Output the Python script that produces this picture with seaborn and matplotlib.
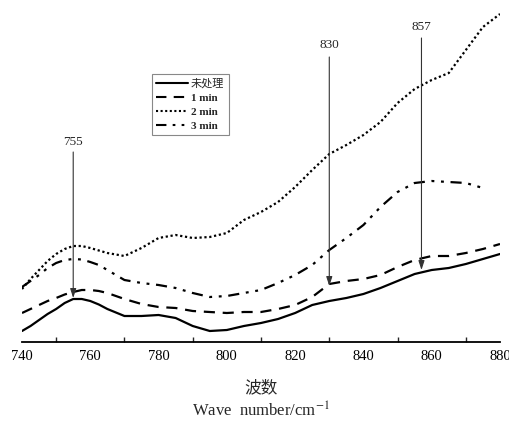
import numpy as np
import pandas as pd
import matplotlib
matplotlib.use("Agg")
import matplotlib.pyplot as plt
import seaborn as sns
from matplotlib.lines import Line2D

# ---- data (arbitrary intensity units) ----
wavenumber = [740, 742.5, 745, 747.5, 750, 752.5, 755, 757.5, 760, 762.5, 765,
              770, 775, 780, 785, 790, 795, 800, 805, 810, 815, 820, 825, 830,
              835, 840, 845, 850, 855, 860, 865, 870, 875, 880]
untreated = [11, 16, 22, 28, 33, 39, 43, 43, 41, 37.5, 33, 26, 26, 27, 24, 16,
             11, 12, 16, 19, 23, 29, 37, 41, 44, 48, 54, 61, 68, 72, 74, 78,
             83, 88]
min1 = [29, 33, 37, 41, 44, 47.5, 50, 52, 52, 51, 49, 43, 38, 35, 34, 31, 30,
        29, 30, 30, 33, 37, 45, 58, 61, 63, 67, 75, 82, 86, 86, 89, 93, 98]
min2 = [53, 63, 72, 81, 88, 93, 96, 96, 94, 91.5, 89, 86, 94, 104, 107, 104,
        105, 109, 122, 130, 140, 155, 172, 188, 197, 207, 220, 239, 253, 262,
        269, 292, 315, 328]
min3 = [55, 61, 67, 74, 79, 82, 83, 82.5, 80, 77, 72, 62, 59, 57, 54, 49, 45,
        46, 49, 52, 59, 67, 77, 92, 104, 117, 135, 150, 159, 161, 160, 159,
        154, np.nan]
series_names = ["未处理", "1 min", "2 min", "3 min"]
peak_positions = [755, 830, 857]
peak_tops = [190, 285, 304]
peak_tips = [44, 56, 72]
peak_label_y = [200, 297, 315]
xticks = [740, 760, 780, 800, 820, 840, 860, 880]

# ---- build long table ----
frames = []
for name, vals in zip(series_names, [untreated, min1, min2, min3]):
    frames.append(pd.DataFrame({"wn": wavenumber, "val": vals, "series": name}))
df = pd.concat(frames, ignore_index=True).dropna()

sns.set_style("white")
plt.rcParams["font.family"] = ["Liberation Serif", "Noto Sans CJK SC"]
plt.rcParams["mathtext.fontset"] = "stix"

fig = plt.figure(figsize=(5.10, 4.24), dpi=100)
ax = fig.add_axes([22 / 510, 82 / 424, 478 / 510, 342 / 424])

dash_map = {"未处理": "", "1 min": (5, 3.5), "2 min": (1, 1.2),
            "3 min": (5, 3, 1.3, 3, 1.3, 3)}
sns.lineplot(data=df, x="wn", y="val", hue="series", style="series",
             hue_order=series_names, style_order=series_names,
             palette=["black"] * 4, dashes=dash_map, linewidth=1.6,
             ax=ax, legend=False, sort=False)

# arrows and labels
for xp, top, tip, ly in zip(peak_positions, peak_tops, peak_tips, peak_label_y):
    ax.annotate("", xy=(xp, tip), xytext=(xp, top),
                arrowprops=dict(arrowstyle="-|>,head_length=0.55,head_width=0.18",
                                color="#333333", lw=0.8, shrinkA=0, shrinkB=0))
    ax.text(xp, ly, str(xp), ha="center", va="center", fontsize=9.5,
            family="Liberation Serif")

ax.set_xlim(740, 880)
ax.set_ylim(0, 342)
for s in ["left", "right", "top"]:
    ax.spines[s].set_visible(False)
ax.spines["bottom"].set_linewidth(1.3)
ax.spines["bottom"].set_color("black")
ax.set_yticks([])
ax.set_xticks(xticks)
ax.set_xticks(np.arange(750, 880, 20), minor=True)
ax.tick_params(axis="x", which="major", direction="in", length=6, width=1.2,
               labelsize=10.5, pad=6, colors="black")
ax.tick_params(axis="x", which="minor", direction="in", length=3.5, width=1.0,
               bottom=True)
ax.set_xlabel("")
ax.set_ylabel("")

fig.text(261 / 510, 1 - 388 / 424, "波数", ha="center", va="center",
         fontsize=12, family=["Noto Sans CJK SC"])
fig.text(261 / 510, 1 - 411 / 424, r"Wave  number/cm$^{-1}$", ha="center",
         va="center", fontsize=12, family="Liberation Serif")

# legend
handles = []
for name in series_names:
    d = dash_map[name]
    if d == "":
        handles.append(Line2D([], [], color="black", lw=1.5, linestyle="-"))
    else:
        handles.append(Line2D([], [], color="black", lw=1.5, linestyle=(0, d)))
leg = ax.legend(handles, series_names, loc="upper left",
                bbox_to_anchor=(0.272, 0.784), borderaxespad=0,
                fontsize=8, handlelength=2.8, handletextpad=0.3,
                labelspacing=0.38, borderpad=0.4, fancybox=False,
                framealpha=1, edgecolor="#888888")
leg.get_frame().set_linewidth(0.8)
for i, t in enumerate(leg.get_texts()):
    if i > 0:
        t.set_fontweight("bold")
    else:
        t.set_fontfamily(["Noto Sans CJK SC"])

fig.savefig("out.png", dpi=100)
